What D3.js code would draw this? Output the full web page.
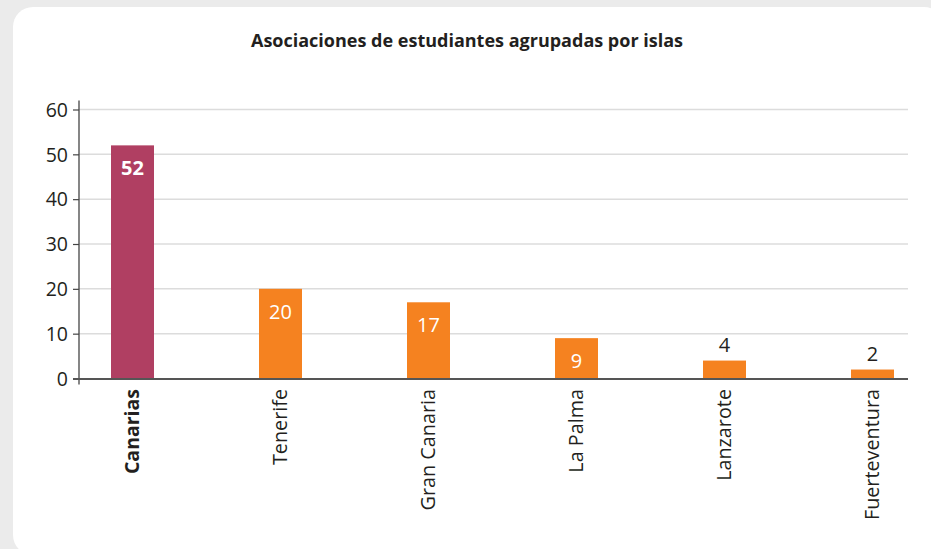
<!DOCTYPE html>
<html><head><meta charset="utf-8">
<script src="https://cdn.jsdelivr.net/npm/d3@7"></script>
<style>
html,body{margin:0;padding:0;background:#ebebeb;}
svg{display:block;}
</style></head>
<body>
<svg id="chart" width="931" height="549"></svg>
<script>
const categories = ["Canarias", "Tenerife", "Gran Canaria", "La Palma", "Lanzarote", "Fuerteventura"];
const values = [52, 20, 17, 9, 4, 2];
const yTicks = [0, 10, 20, 30, 40, 50, 60];
const title = "Asociaciones de estudiantes agrupadas por islas";

const svg = d3.select("#chart");
svg.append("rect").attr("x", 0).attr("y", 0).attr("width", 931).attr("height", 549).attr("fill", "#ebebeb");
svg.append("rect").attr("x", 13).attr("y", 7).attr("width", 931).attr("height", 548).attr("rx", 20).attr("fill", "#ffffff");

const font = "'Open Sans', sans-serif";
svg.append("text").attr("x", 467).attr("y", 47).attr("text-anchor", "middle")
  .attr("font-family", font).attr("font-weight", "bold").attr("font-size", 18).attr("fill", "#231f20")
  .text(title);

const x0 = 79, x1 = 908, yTop = 109.5, yBot = 378.5;
const y = d3.scaleLinear().domain([0, 60]).range([yBot, yTop]);
const x = d3.scalePoint().domain(categories).range([132.5, 872.5]);
const barW = 43;

// gridlines
svg.append("g").selectAll("line").data(yTicks.filter(d => d > 0)).join("line")
  .attr("x1", x0).attr("x2", x1).attr("y1", d => y(d)).attr("y2", d => y(d))
  .attr("stroke", "#dcdcdc").attr("stroke-width", 1.5);

// bars
svg.append("g").selectAll("rect").data(categories).join("rect")
  .attr("x", d => x(d) - barW / 2).attr("width", barW)
  .attr("y", (d, i) => y(values[i])).attr("height", (d, i) => yBot - y(values[i]) + 1)
  .attr("fill", (d, i) => i === 0 ? "#b03f62" : "#f58220");

// y axis
const yAxis = d3.axisLeft(y).tickValues(yTicks).tickSize(6).tickPadding(5);
const gy = svg.append("g").attr("transform", `translate(${x0},0)`).call(yAxis);
gy.select(".domain").attr("stroke", "#444").attr("stroke-width", 1.3).attr("d", `M0,${yTop - 9}V${yBot + 6}`);
gy.selectAll(".tick line").attr("stroke", "#444").attr("stroke-width", 1.2);
gy.selectAll(".tick text").attr("font-family", font).attr("font-size", 19.5).attr("fill", "#231f20").attr("dy", "0.35em");

// x baseline
svg.append("line").attr("x1", x0 - 6).attr("x2", x1).attr("y1", yBot + 0.5).attr("y2", yBot + 0.5)
  .attr("stroke", "#555").attr("stroke-width", 1.8);

// category labels
svg.append("g").selectAll("text").data(categories).join("text")
  .attr("transform", d => `translate(${x(d) + 6},389) rotate(-90)`)
  .attr("text-anchor", "end")
  .attr("font-family", font).attr("font-size", (d, i) => i === 0 ? 19.5 : 19.8)
  .attr("font-weight", (d, i) => i === 0 ? "bold" : "normal")
  .attr("fill", "#231f20")
  .text(d => d);

// value labels
svg.append("g").selectAll("text").data(categories).join("text")
  .attr("x", d => x(d))
  .attr("y", (d, i) => values[i] >= 5 ? y(values[i]) + 30 : y(values[i]) - 9)
  .attr("text-anchor", "middle")
  .attr("font-family", font).attr("font-size", 20)
  .attr("font-weight", (d, i) => i === 0 ? "bold" : "normal")
  .attr("fill", (d, i) => values[i] >= 5 ? "#ffffff" : "#231f20")
  .text((d, i) => values[i]);
</script>
</body></html>
